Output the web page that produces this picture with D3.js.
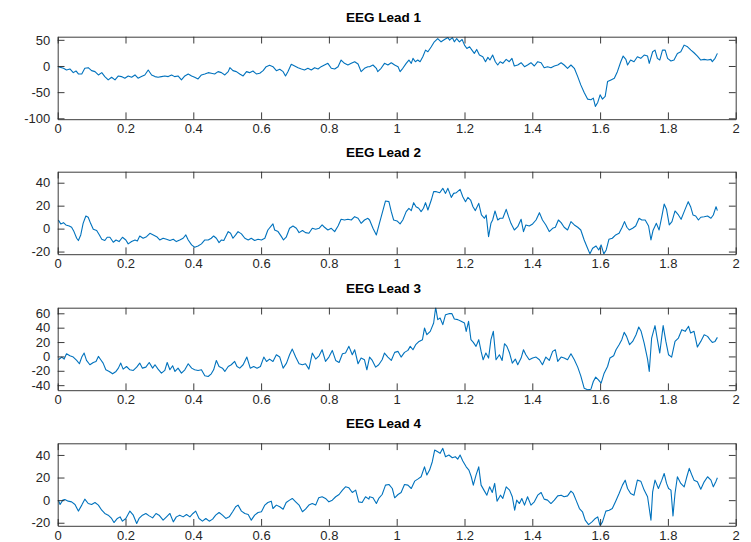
<!DOCTYPE html>
<html>
<head>
<meta charset="utf-8">
<script src="https://cdn.jsdelivr.net/npm/d3@7"></script>
<style>
  html, body { margin: 0; padding: 0; background: #ffffff; }
  svg { display: block; font-family: "Liberation Sans", Arial, Helvetica, sans-serif; }
</style>
</head>
<body>
<svg id="chart" width="751" height="542"></svg>
<script>
// ---------------- data (time in s, amplitude) ----------------
const titles = ["EEG Lead 1", "EEG Lead 2", "EEG Lead 3", "EEG Lead 4"];
const xTicks = [0, 0.2, 0.4, 0.6, 0.8, 1, 1.2, 1.4, 1.6, 1.8, 2];
const yTicks1 = [-100, -50, 0, 50];
const yTicks2 = [-20, 0, 20, 40];
const yTicks3 = [-40, -20, 0, 20, 40, 60];
const yTicks4 = [-20, 0, 20, 40];
const yLims = [[-101.7, 56], [-22.3, 49.6], [-47, 67.8], [-22.7, 50.3]];

const lead1 = [
[0.002,-1.3],[0.017,-4.4],[0.026,-7.6],[0.036,-5.7],[0.046,-12.7],[0.054,-9.5],[0.061,-15.2],[0.071,-15.2],[0.080,-4.4],[0.090,-3.2],
[0.100,-8.9],[0.110,-10.8],[0.120,-17.1],[0.130,-12.7],[0.139,-20.3],[0.149,-26.6],[0.159,-21.5],[0.169,-26.6],[0.179,-19],[0.188,-20.3],
[0.198,-23.4],[0.208,-19],[0.218,-21.5],[0.228,-17.1],[0.237,-23.4],[0.247,-20.3],[0.257,-17.1],[0.267,-7.6],[0.277,-17.1],[0.287,-20.3],
[0.296,-21.5],[0.306,-20.3],[0.316,-19],[0.326,-20.3],[0.336,-17.1],[0.345,-20.3],[0.355,-19],[0.365,-26.6],[0.375,-19],[0.385,-15.2],
[0.395,-19],[0.404,-21.5],[0.414,-24.7],[0.424,-17.1],[0.434,-15.2],[0.444,-12.7],[0.453,-13.9],[0.463,-15.2],[0.473,-10.8],[0.483,-12.7],
[0.493,-17.1],[0.503,-10.8],[0.508,-3.2],[0.517,-8.9],[0.527,-10.8],[0.537,-15.2],[0.547,-19],[0.557,-10.8],[0.566,-12.7],[0.576,-9.5],
[0.586,-15.2],[0.596,-13.9],[0.606,-8.9],[0.615,-1.3],[0.625,1.3],[0.635,-1.3],[0.645,-8.9],[0.655,-6.3],[0.665,-10.8],[0.672,-19],
[0.679,-10.8],[0.689,3.2],[0.699,0],[0.709,-3.2],[0.719,-5.7],[0.728,-7.6],[0.738,-4.4],[0.748,-7.6],[0.758,-3.2],[0.768,-5.7],
[0.777,-1.3],[0.787,1.9],[0.797,5.1],[0.807,-4.4],[0.817,-5.7],[0.827,-1.3],[0.836,11.4],[0.846,5.1],[0.856,1.9],[0.866,5.1],
[0.876,8.2],[0.886,3.8],[0.895,-10.8],[0.905,-4.4],[0.915,-1.3],
[0.920,-1.3],[0.930,1.9],[0.940,-4.4],[0.944,-10.8],[0.954,-4.4],[0.964,5.1],[0.974,1.9],[0.984,6.3],[0.994,1.9],[1.004,-1.3],
[1.010,-10.8],[1.018,-4.4],[1.028,5.1],[1.036,11.4],[1.043,5.1],[1.048,14.6],[1.055,8.2],[1.062,11.4],[1.069,8.2],[1.077,17.7],
[1.085,30.4],[1.092,27.2],[1.102,36.7],[1.111,46.2],[1.121,52.5],[1.131,46.2],[1.141,50.6],[1.151,54.4],[1.156,49.4],[1.164,54.4],
[1.170,46.2],[1.177,52.5],[1.185,46.2],[1.193,50.6],[1.200,39.9],[1.207,33.5],[1.215,36.7],[1.222,30.4],[1.229,24.1],[1.236,31.7],
[1.244,20.9],[1.254,17.7],[1.262,8.2],[1.269,16.5],[1.275,11.4],[1.283,20.9],[1.291,8.2],[1.298,1.9],[1.305,8.2],[1.313,5.1],
[1.323,12.7],[1.332,8.2],[1.340,14.6],[1.347,0],[1.357,1.9],[1.367,6.3],[1.377,-1.3],[1.386,1.9],[1.396,6.3],[1.406,0],
[1.416,8.2],[1.426,6.3],[1.435,-3.2],[1.445,-1.3],[1.455,-3.2],[1.465,0],[1.475,1.9],[1.485,6.3],[1.494,1.9],[1.504,-4.4],
[1.514,1.9],[1.524,-4.4],[1.534,-20.3],[1.543,-36.1],[1.553,-50.6],[1.563,-63.3],[1.573,-64.6],[1.580,-61.4],[1.586,-77.2],[1.593,-69.6],
[1.600,-55.1],[1.607,-63.3],[1.615,-58.2],[1.622,-29.8],[1.632,-26.6],[1.642,-23.4],[1.651,-10.8],[1.661,8.2],[1.668,19],[1.676,12.7],
[1.681,1.9],[1.690,11.4],[1.700,8.2],[1.710,17.7],[1.720,14.6],[1.730,20.9],[1.740,19],[1.745,5.1],[1.755,27.2],[1.762,30.4],
[1.769,14.6],[1.776,11.4],[1.784,30.4],[1.792,30.4],[1.799,14.6],[1.809,9.5],[1.818,11.4],[1.828,24.1],[1.838,27.2],[1.848,39.9],
[1.858,36.7],[1.868,30.4],[1.877,25.3],[1.887,19],[1.897,11.4],[1.907,12.7],[1.917,11.4],[1.927,12.7],[1.931,8.2],[1.939,14.6],[1.946,24.1]
];

const lead2 = [
[0.002,7.5],[0.009,4.1],[0.017,5.2],[0.024,3.2],[0.034,2.3],[0.041,1.2],[0.048,-2.6],[0.056,-8.4],[0.061,-10.4],[0.068,-5.5],
[0.075,4.6],[0.083,11],[0.090,9.9],[0.097,4.6],[0.105,-0.6],[0.115,-1.7],[0.123,-5.5],[0.130,-9.3],[0.139,-10.4],[0.146,-7.5],
[0.154,-7.5],[0.164,-11.9],[0.172,-9.9],[0.181,-11.3],[0.191,-7.5],[0.201,-9.9],[0.208,-13.3],[0.218,-11.3],[0.228,-9.9],[0.235,-10.7],
[0.242,-6.4],[0.252,-8.4],[0.262,-7],[0.272,-4.1],[0.282,-5.5],[0.292,-7],[0.301,-9.9],[0.311,-8.4],[0.321,-9.3],[0.331,-10.4],
[0.341,-9.3],[0.350,-11.3],[0.360,-9.9],[0.370,-8.4],[0.378,-5.5],[0.385,-9.9],[0.395,-14.2],[0.404,-16.2],[0.414,-15.1],[0.424,-13.3],
[0.434,-9.9],[0.444,-9.9],[0.453,-8.4],[0.460,-6.4],[0.468,-8.4],[0.476,-12.2],[0.483,-9.9],[0.490,-10.4],[0.498,-5.5],[0.503,-2.6],
[0.510,-4.1],[0.517,-8.4],[0.525,-5.5],[0.532,-2.6],[0.542,-4.6],[0.552,-8.4],[0.562,-9.9],[0.571,-8.4],[0.581,-10.4],[0.591,-9.3],
[0.601,-9.9],[0.611,-8.4],[0.620,-1.2],[0.630,2.3],[0.635,4.1],[0.640,-1.2],[0.650,-2.6],[0.660,-7],[0.666,-9.9],[0.674,-7.5],
[0.684,0.3],[0.694,2.3],[0.704,0.3],[0.712,-3.5],[0.722,-1.7],[0.731,-3.5],[0.741,-4.1],[0.751,0.3],[0.761,-0.6],[0.771,0.3],
[0.780,3.2],[0.787,1.2],[0.797,-1.2],[0.807,0.3],[0.817,-2.6],[0.827,2.3],[0.836,8.1],[0.846,7.5],[0.856,8.1],[0.866,7.5],
[0.876,10.4],[0.886,9],[0.895,4.6],[0.905,7.5],[0.915,9],
[0.920,7.5],[0.930,0.3],[0.940,-5.5],[0.949,4.6],[0.957,13.3],[0.967,24.1],[0.977,23.5],[0.984,14.8],[0.991,7.5],[1.001,6.7],
[1.010,4.1],[1.018,7.5],[1.028,14.8],[1.036,17.7],[1.043,15.7],[1.050,22.6],[1.057,19.1],[1.065,17.7],[1.072,14.8],[1.079,17.7],
[1.085,22.6],[1.092,16.2],[1.102,24.9],[1.109,32.2],[1.117,32.2],[1.127,31.3],[1.136,35.1],[1.144,30.7],[1.151,35.1],[1.161,27.2],
[1.168,30.7],[1.176,31.3],[1.187,34.2],[1.195,27.8],[1.203,23.5],[1.210,27.2],[1.218,24.9],[1.225,19.1],[1.232,15.7],[1.242,22],
[1.250,11.9],[1.259,9],[1.264,11.9],[1.271,-7],[1.278,4.6],[1.283,7.5],[1.290,15.4],[1.298,7.5],[1.305,9],[1.313,9],
[1.323,16.8],[1.330,10.4],[1.337,4.6],[1.347,-1.2],[1.357,1.7],[1.367,8.1],[1.374,-2.6],[1.381,3.2],[1.391,2.3],[1.401,4.1],
[1.411,7.5],[1.421,13.9],[1.430,7.5],[1.440,3.2],[1.450,-2.6],[1.460,0.3],[1.468,1.2],[1.477,7.5],[1.485,5.2],[1.494,1.2],
[1.504,-1.2],[1.514,6.1],[1.524,3.2],[1.534,1.2],[1.543,-1.2],[1.553,-9.9],[1.563,-17.1],[1.570,-22],[1.578,-17.1],[1.588,-15.1],
[1.596,-18.6],[1.603,-14.2],[1.611,-22],[1.618,-18.6],[1.626,-9.3],[1.636,-8.4],[1.646,-5.5],[1.656,-4.1],[1.665,1.2],[1.672,6.1],
[1.679,1.2],[1.686,-1.2],[1.696,0.3],[1.705,2.3],[1.715,9],[1.723,7.5],[1.733,7.5],[1.743,2.3],[1.750,-9.9],[1.756,-1.7],
[1.766,4.6],[1.774,-1.2],[1.782,10.4],[1.789,21.4],[1.796,16.8],[1.804,3.2],[1.812,6.1],[1.821,15.4],[1.831,11.9],[1.839,8.1],
[1.848,14.8],[1.860,23.5],[1.867,19.1],[1.874,11.9],[1.882,11],[1.890,7.5],[1.897,9.9],[1.907,10.4],[1.917,11],[1.927,9],
[1.934,11.9],[1.942,19.1],[1.946,15.7]
];

const lead3 = [
[0.002,-4.7],[0.012,-0.9],[0.019,-3.7],[0.026,3.7],[0.036,0.9],[0.046,-0.9],[0.056,-5.6],[0.064,-10.2],[0.071,-0.9],[0.078,4.7],
[0.085,-5.6],[0.095,-11.6],[0.105,-8.4],[0.113,-7],[0.120,0],[0.127,-4.7],[0.134,-9.3],[0.142,-18.6],[0.152,-20.9],[0.162,-24.2],
[0.172,-20.9],[0.179,-16.3],[0.186,-9.3],[0.193,-17.7],[0.203,-14],[0.213,-18.6],[0.223,-19.5],[0.233,-14.9],[0.242,-9.3],[0.250,-16.3],
[0.260,-14.9],[0.270,-8.4],[0.280,-16.3],[0.287,-11.6],[0.296,-17.7],[0.306,-23.3],[0.316,-19.5],[0.323,-8.4],[0.331,-18.6],[0.339,-13],
[0.346,-20.9],[0.355,-16.3],[0.365,-23.3],[0.375,-18.6],[0.385,-10.2],[0.395,-16.3],[0.404,-18.6],[0.414,-19.5],[0.424,-18.6],[0.434,-27],
[0.444,-27.9],[0.453,-24.2],[0.460,-18.6],[0.468,-5.6],[0.476,-14],[0.486,-16.3],[0.493,-20.9],[0.503,-14],[0.512,-11.6],[0.522,-7],
[0.529,-14],[0.537,-16.3],[0.547,-11.6],[0.558,-0.9],[0.568,-16.3],[0.578,-14],[0.588,-16.3],[0.598,-14],[0.608,-0.9],[0.616,-7],
[0.625,-3.7],[0.635,-7],[0.645,2.3],[0.655,-0.9],[0.665,-16.3],[0.675,-9.3],[0.684,2.3],[0.692,10.2],[0.702,-0.9],[0.712,-10.2],
[0.722,-11.6],[0.731,-10.2],[0.741,-17.7],[0.751,4.7],[0.761,-3.7],[0.771,0.9],[0.780,9.3],[0.790,-7],[0.800,-0.9],[0.810,8.4],
[0.820,-5.6],[0.830,-8.4],[0.840,3.7],[0.849,4.7],[0.859,14],[0.869,2.3],[0.876,9.3],[0.886,-10.2],[0.895,-2.3],[0.905,-4.7],
[0.912,-18.6],
[0.920,-0.9],[0.928,-5.6],[0.938,-14.9],[0.947,-11.6],[0.957,-4.7],[0.964,4.7],[0.974,-0.9],[0.984,-5.6],[0.994,5.6],[1.004,7],
[1.013,-0.9],[1.023,5.6],[1.033,8.4],[1.040,14],[1.048,9.3],[1.056,16.3],[1.066,20.9],[1.076,23.3],[1.082,39.5],[1.089,30.2],
[1.099,34.9],[1.109,46.5],[1.115,68.4],[1.121,51.2],[1.128,53.5],[1.136,44.2],[1.144,58.1],[1.154,59.5],[1.163,59.5],[1.170,52.1],
[1.180,51.2],[1.190,48.8],[1.200,46.5],[1.205,34.9],[1.212,48.8],[1.219,23.3],[1.226,19.5],[1.234,14],[1.242,23.3],[1.249,7],
[1.255,-4.7],[1.263,4.7],[1.271,-2.3],[1.278,23.3],[1.285,34.9],[1.293,-4.7],[1.303,2.3],[1.311,-5.6],[1.318,17.7],[1.325,14],
[1.333,4.7],[1.341,-9.3],[1.350,-3.7],[1.357,-11.6],[1.367,-2.3],[1.374,9.3],[1.381,2.3],[1.391,-4.7],[1.401,-2.3],[1.411,-0.9],
[1.421,-4.7],[1.430,-11.6],[1.440,-0.9],[1.450,-5.6],[1.460,7],[1.468,9.3],[1.475,-7],[1.485,-0.9],[1.494,-2.3],[1.504,-4.7],
[1.514,3.7],[1.524,-4.7],[1.534,-14.9],[1.543,-27],[1.553,-44.2],[1.563,-46.5],[1.573,-45.6],[1.580,-34.9],[1.587,-28.8],[1.595,-32.6],
[1.603,-37.2],[1.612,-23.3],[1.622,-14],[1.629,-2.3],[1.640,0.9],[1.647,9.3],[1.656,16.3],[1.664,23.3],[1.671,33.5],[1.678,27.9],
[1.687,16.3],[1.696,20.9],[1.706,30.2],[1.714,40.9],[1.721,34.9],[1.730,18.6],[1.740,-3.7],[1.745,-20.9],[1.752,25.6],[1.762,42.8],
[1.769,23.3],[1.776,4.7],[1.786,42.8],[1.794,20.9],[1.802,2.3],[1.811,-0.9],[1.821,20.9],[1.831,25.6],[1.841,37.2],[1.851,34.9],
[1.861,41.9],[1.867,32.6],[1.877,34.9],[1.887,13],[1.897,20.9],[1.907,30.2],[1.917,27.9],[1.924,23.3],[1.931,19.5],[1.939,20.9],[1.946,26.5]
];

const lead4 = [
[0.002,0],[0.007,-3.8],[0.015,0],[0.021,0.6],[0.031,-0.9],[0.041,-1.5],[0.051,-3.8],[0.061,-9.7],[0.071,-4.4],[0.080,0.9],
[0.090,-3],[0.100,-3.8],[0.110,-2.1],[0.120,-4.4],[0.130,-8.9],[0.139,-11.8],[0.149,-13.3],[0.159,-16.2],[0.166,-19.8],[0.176,-16.2],
[0.184,-14.8],[0.191,-18.6],[0.201,-16.2],[0.213,-9.7],[0.223,-13.3],[0.233,-20.7],[0.240,-16.2],[0.250,-13.3],[0.260,-11.8],[0.270,-13.9],
[0.280,-15.7],[0.290,-11.8],[0.299,-13.3],[0.311,-17.7],[0.321,-14.8],[0.331,-11.8],[0.341,-19.2],[0.350,-14.8],[0.360,-13.3],[0.370,-14.8],
[0.380,-12.7],[0.390,-14.8],[0.399,-11.8],[0.407,-9.7],[0.417,-16.2],[0.427,-18.6],[0.437,-16.2],[0.447,-18.6],[0.457,-16.8],[0.466,-13.3],
[0.476,-10.9],[0.486,-13.3],[0.496,-16.2],[0.506,-14.8],[0.516,-10.3],[0.525,-5.9],[0.532,-4.4],[0.542,-9.7],[0.552,-11.8],[0.562,-12.7],
[0.571,-17.7],[0.581,-13.3],[0.591,-10.9],[0.601,-10.3],[0.611,-4.4],[0.620,-2.1],[0.630,-0.9],[0.635,-7.4],[0.645,-4.4],[0.655,-5.9],
[0.665,-8],[0.674,-2.1],[0.684,0],[0.692,1.5],[0.702,-1.5],[0.712,-4.4],[0.722,-10.3],[0.731,-8],[0.741,-4.4],[0.751,-3],
[0.761,-4.4],[0.770,2.1],[0.780,3],[0.790,1.5],[0.800,-1.5],[0.810,0],[0.820,3],[0.830,5],[0.840,8.9],[0.849,11.8],
[0.859,10.9],[0.869,6.8],[0.879,8.9],[0.888,-1.5],[0.898,-2.1],[0.908,3],[0.918,0.9],
[0.920,3],[0.930,2.1],[0.940,-3],[0.947,1.5],[0.957,5],[0.967,13.3],[0.977,13.9],[0.987,10.3],[0.994,2.1],[1.004,5],
[1.013,6.8],[1.023,13.9],[1.033,13.3],[1.043,10.3],[1.053,16.8],[1.062,18.6],[1.072,20.7],[1.082,29.5],[1.089,22.2],[1.097,26.6],
[1.105,34],[1.112,44.3],[1.121,42.8],[1.128,41.4],[1.136,45.8],[1.144,38.4],[1.154,39.9],[1.164,37.5],[1.173,38.4],[1.180,36.3],
[1.187,39.9],[1.195,34.6],[1.205,29.5],[1.213,26.6],[1.220,20.7],[1.226,13.3],[1.234,22.2],[1.242,29.5],[1.249,13.3],[1.259,8],
[1.266,4.4],[1.274,11.8],[1.282,6.8],[1.289,14.8],[1.296,-0.9],[1.306,4.4],[1.313,1.5],[1.323,11.8],[1.333,8.9],[1.341,3],
[1.348,-8.9],[1.354,0],[1.362,-3],[1.369,1.5],[1.377,-4.4],[1.386,3],[1.396,-4.4],[1.406,-1.5],[1.416,4.4],[1.426,6.8],
[1.435,0.9],[1.445,0],[1.455,-3],[1.465,0],[1.475,3.8],[1.485,4.4],[1.494,3],[1.504,3.8],[1.514,8],[1.521,5.9],
[1.529,0],[1.539,-7.4],[1.548,-10.3],[1.556,-17.7],[1.566,-21.6],[1.576,-19.2],[1.586,-16.2],[1.593,-14.8],[1.600,-22.7],[1.607,-19.2],
[1.617,-9.7],[1.627,-8.9],[1.636,-7.4],[1.646,-0.9],[1.656,5.9],[1.666,13.3],[1.674,17.7],[1.681,10.3],[1.690,5.9],[1.700,4.4],
[1.710,17.7],[1.720,16.8],[1.730,8.9],[1.740,3],[1.750,-17.7],[1.755,7.4],[1.762,17.7],[1.772,10.3],[1.782,17.7],[1.789,23.6],
[1.796,14.8],[1.802,10.3],[1.809,8.9],[1.815,-13.9],[1.821,5.9],[1.828,20.7],[1.838,14.8],[1.848,11.8],[1.855,19.8],[1.863,28.1],
[1.870,22.7],[1.877,17.7],[1.887,16.2],[1.897,9.7],[1.907,16.2],[1.917,20.7],[1.927,17.7],[1.934,11.8],[1.942,16.8],[1.946,19.8]
];

const leads = [lead1, lead2, lead3, lead4];
const yTickSets = [yTicks1, yTicks2, yTicks3, yTicks4];

// ---------------- layout ----------------
const svg = d3.select("#chart");
const axLeft = 57.7, axRight = 735.7;
const axTops = [36.7, 171.7, 307.7, 443.3];
const axH = 82.5;
const tickLen = 6.8;
const axisColor = "#262626";
const lineColor = "#0072BD";

const x = d3.scaleLinear().domain([0, 2]).range([axLeft, axRight]);

leads.forEach((data, i) => {
  const top = axTops[i], bottom = top + axH;
  const y = d3.scaleLinear().domain(yLims[i]).range([bottom, top]);
  const g = svg.append("g");

  g.append("rect").attr("x", axLeft).attr("y", top)
    .attr("width", axRight - axLeft).attr("height", axH).attr("fill", "#ffffff");

  const clipId = "clip" + i;
  svg.append("clipPath").attr("id", clipId).append("rect")
    .attr("x", axLeft).attr("y", top).attr("width", axRight - axLeft).attr("height", axH);

  const line = d3.line().x(d => x(d[0])).y(d => y(d[1]));
  g.append("path").datum(data)
    .attr("clip-path", `url(#${clipId})`)
    .attr("d", line)
    .attr("fill", "none")
    .attr("stroke", lineColor)
    .attr("stroke-width", 1.1)
    .attr("stroke-linejoin", "round");

  const fmt = v => String(+v.toFixed(1));
  const styleAxis = sel => {
    sel.selectAll("path.domain").attr("stroke", axisColor).attr("stroke-width", 0.9);
    sel.selectAll(".tick line").attr("stroke", axisColor).attr("stroke-width", 0.9);
    sel.selectAll(".tick text").attr("fill", axisColor).style("font-size", "13px")
      .style("font-family", '"Liberation Sans", Arial, Helvetica, sans-serif');
  };

  g.append("g").attr("transform", `translate(0,${bottom})`)
    .call(d3.axisBottom(x).tickValues(xTicks).tickFormat(fmt).tickSizeInner(-tickLen).tickSizeOuter(0).tickPadding(5))
    .call(styleAxis);
  g.append("g").attr("transform", `translate(0,${top})`)
    .call(d3.axisTop(x).tickValues(xTicks).tickFormat("").tickSizeInner(-tickLen).tickSizeOuter(0))
    .call(styleAxis);
  g.append("g").attr("transform", `translate(${axLeft},0)`)
    .call(d3.axisLeft(y).tickValues(yTickSets[i]).tickFormat(d3.format("d")).tickSizeInner(-tickLen).tickSizeOuter(0).tickPadding(7.5))
    .call(styleAxis);
  g.append("g").attr("transform", `translate(${axRight},0)`)
    .call(d3.axisRight(y).tickValues(yTickSets[i]).tickFormat("").tickSizeInner(-tickLen).tickSizeOuter(0))
    .call(styleAxis);

  g.selectAll(".tick text").filter(function() { return this.textContent.startsWith("−"); })
    .text(function() { return this.textContent.replace("−", "-"); });

  svg.append("text")
    .attr("x", 383.5).attr("y", top - 15)
    .attr("text-anchor", "middle")
    .attr("fill", "#000000")
    .style("font-size", "13.5px").style("font-weight", "bold")
    .text(titles[i]);
});
</script>
</body>
</html>
